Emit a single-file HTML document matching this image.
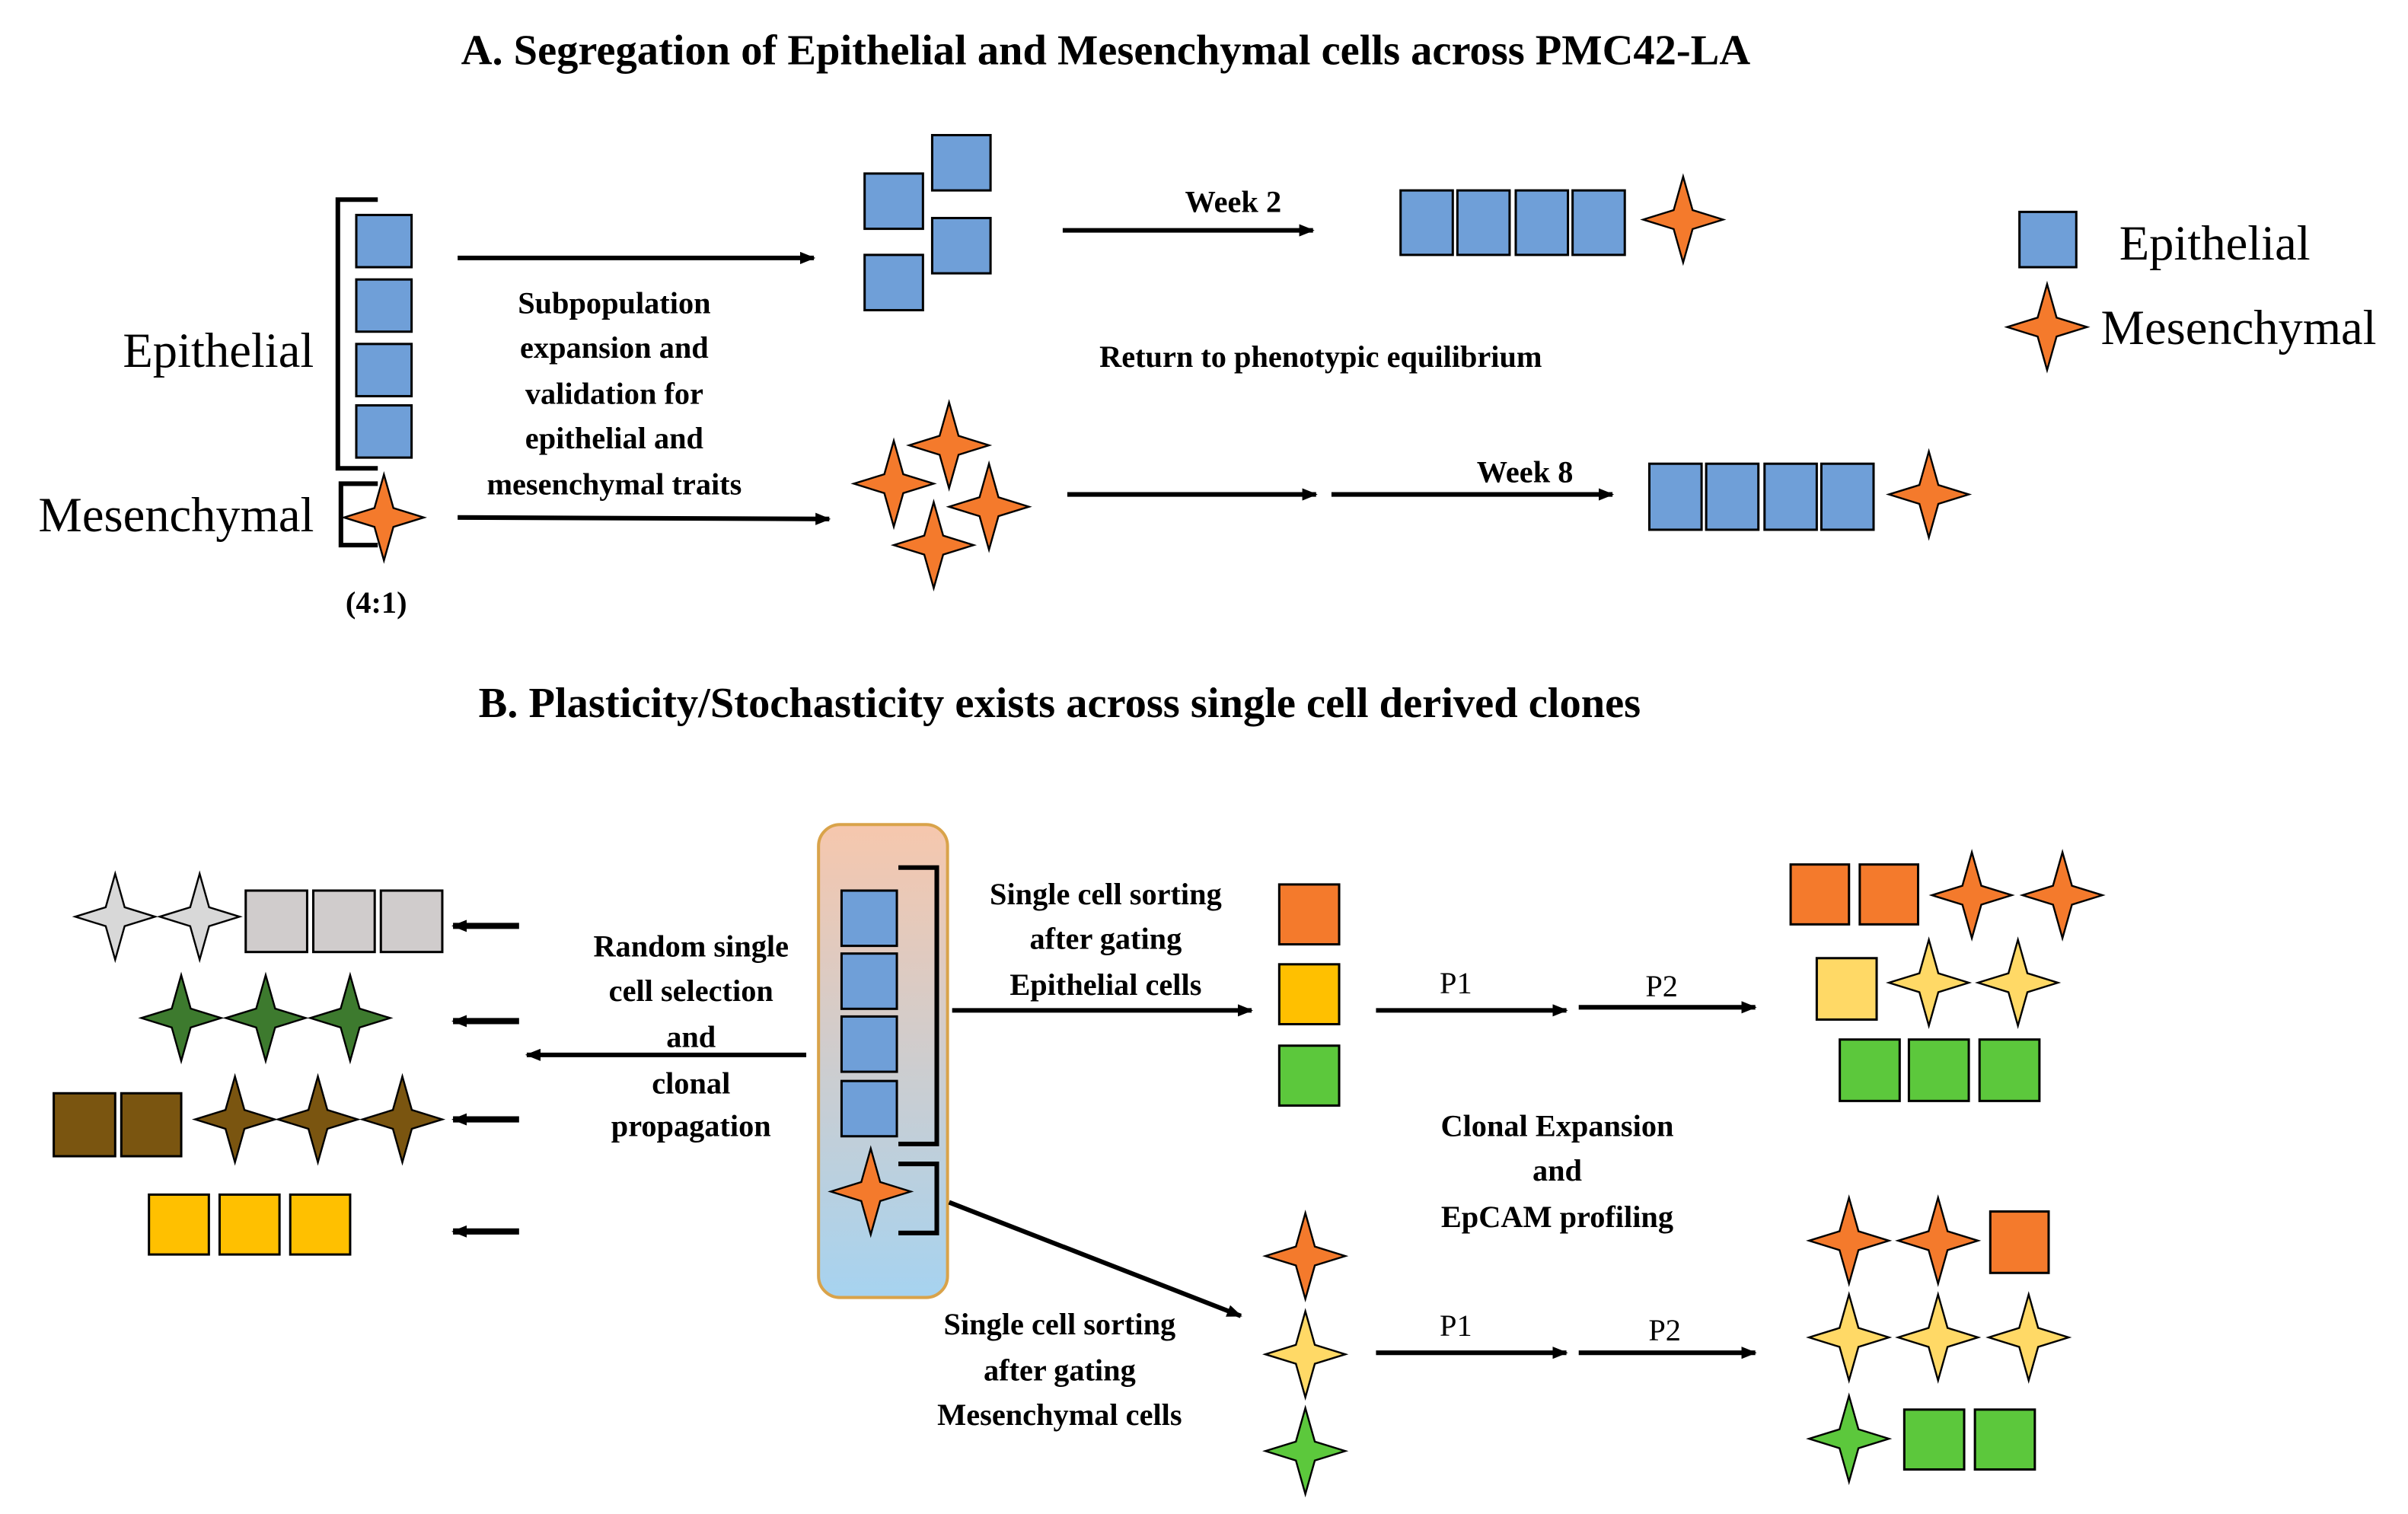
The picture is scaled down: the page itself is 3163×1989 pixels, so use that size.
<!DOCTYPE html>
<html><head><meta charset="utf-8"><style>html,body{margin:0;padding:0;background:#fff}svg{display:block}</style></head>
<body>
<svg id="s" xmlns="http://www.w3.org/2000/svg" width="3163" height="1989" viewBox="0 0 1568 986">
<defs>
<linearGradient id="g" x1="0" y1="0" x2="0" y2="1"><stop offset="0" stop-color="#f6c7ad"/><stop offset="1" stop-color="#a6d3f0"/></linearGradient>
<marker id="a" markerWidth="10" markerHeight="8" refX="9" refY="4" orient="auto" markerUnits="userSpaceOnUse"><path d="M0,0 L10,4 L0,8 z" fill="#000"/></marker>
</defs>
<rect width="1568" height="986" fill="#fff"/>
<g font-family="Liberation Serif, serif" font-weight="bold" fill="#000">
<text x="720" y="42" font-size="28" text-anchor="middle">A. Segregation of Epithelial and Mesenchymal cells across PMC42-LA</text>
<text x="690" y="467" font-size="28" text-anchor="middle">B. Plasticity/Stochasticity exists across single cell derived clones</text>
<g font-size="20" text-anchor="middle">
<text x="400" y="204">Subpopulation</text><text x="400" y="233">expansion and</text><text x="400" y="263">validation for</text><text x="400" y="292">epithelial and</text><text x="400" y="322">mesenchymal traits</text>
<text x="245" y="399">(4:1)</text>
<text x="803" y="138">Week 2</text><text x="993" y="314">Week 8</text>
<text x="860" y="239">Return to phenotypic equilibrium</text>
<text x="450" y="623">Random single</text><text x="450" y="652">cell selection</text><text x="450" y="682">and</text><text x="450" y="712">clonal</text><text x="450" y="740">propagation</text>
<text x="570" y="837">(4:1)</text>
<text x="720" y="589">Single cell sorting</text><text x="720" y="618">after gating</text><text x="720" y="648">Epithelial cells</text>
<text x="690" y="869">Single cell sorting</text><text x="690" y="899">after gating</text><text x="690" y="928">Mesenchymal cells</text>
<text x="1014" y="740">Clonal Expansion</text><text x="1014" y="769">and</text><text x="1014" y="799">EpCAM profiling</text>
</g>
<g font-size="20" font-weight="normal" text-anchor="middle">
<text x="948" y="647">P1</text><text x="1082" y="649">P2</text><text x="948" y="870">P1</text><text x="1084" y="873">P2</text>
</g>
</g>
<g font-family="Liberation Serif, serif" font-size="32" fill="#000">
<text x="80" y="239">Epithelial</text><text x="25" y="346">Mesenchymal</text>
<text x="1380" y="169">Epithelial</text><text x="1368" y="224">Mesenchymal</text>
</g>
<rect x="533" y="537" width="84" height="308" rx="14" fill="url(#g)" stroke="#d9a34a" stroke-width="2"/>
<g id="c" stroke="#000" stroke-width="3" fill="none"></g>
</svg>
<script>
const s=document.getElementById('c'),NS='http://www.w3.org/2000/svg';
function el(t,a,p){const e=document.createElementNS(NS,t);for(const k in a)e.setAttribute(k,a[k]);(p||s).appendChild(e);return e}
const B='#6f9fd8',O='#f47a2c',Y='#ffc000',LY='#ffd966',G='#5cc83c',DG='#3d7a2e',BR='#7a5510',GR='#d0cccc',GS='#d8d8d8';
function sq(x,y,w,h,f){el('rect',{x,y,width:w,height:h,fill:f,stroke:'#000','stroke-width':1.5})}
function st(cx,cy,r,f){const i=r*0.22,h=r*0.93;el('path',{d:`M${cx},${cy-r} L${cx+i},${cy-i} L${cx+h},${cy} L${cx+i},${cy+i} L${cx},${cy+r} L${cx-i},${cy+i} L${cx-h},${cy} L${cx-i},${cy-i} Z`,fill:f,stroke:'#000','stroke-width':1.2})}
function ar(x1,y1,x2,y2,w){el('line',{x1,y1,x2,y2,stroke:'#000','stroke-width':w||3,'marker-end':'url(#a)'})}
// A
[140,182,224,264].forEach(y=>sq(232,y,36,34,B));
el('path',{d:'M246,130 L220,130 L220,305 L246,305',stroke:'#000','stroke-width':3,fill:'none'});
el('path',{d:'M246,315 L222,315 L222,355 L246,355',stroke:'#000','stroke-width':3,fill:'none'});
st(250,337,28,O);
ar(298,168,530,168);ar(298,337,540,338);
sq(563,113,38,36,B);sq(607,88,38,36,B);sq(607,142,38,36,B);sq(563,166,38,36,B);
ar(692,150,855,150);
[912,949,987,1024].forEach(x=>sq(x,124,34,42,B));st(1096,143,28,O);
[[618,290],[582,315],[644,330],[608,355]].forEach(p=>st(p[0],p[1],28,O));
ar(695,322,857,322);ar(867,322,1050,322);
[1074,1111,1149,1186].forEach(x=>sq(x,302,34,43,B));st(1256,322,28,O);
sq(1315,138,37,36,B);st(1333,213,28,O);
// B
[580,621,662,704].forEach(y=>sq(548,y,36,36,B));
el('path',{d:'M585,565 L610,565 L610,745 L585,745',stroke:'#000','stroke-width':3,fill:'none'});
el('path',{d:'M585,758 L610,758 L610,803 L585,803',stroke:'#000','stroke-width':3,fill:'none'});
st(567,776,28,O);
ar(525,687,343,687);
[603,665,729,802].forEach(y=>ar(338,y,295,y,4));
st(75,597,28,GS);st(130,597,28,GS);[160,204,248].forEach(x=>sq(x,580,40,40,GR));
[118,173,228].forEach(x=>st(x,663,28,DG));
sq(35,712,40,41,BR);sq(79,712,39,41,BR);[153,207,262].forEach(x=>st(x,729,28,BR));
[97,143,189].forEach(x=>sq(x,778,39,39,Y));
ar(620,658,815,658);
sq(833,576,39,39,O);sq(833,628,39,39,Y);sq(833,681,39,39,G);
ar(896,658,1020,658);ar(1028,656,1143,656);
sq(1166,563,38,39,O);sq(1211,563,38,39,O);st(1284,583,28,O);st(1343,583,28,O);
sq(1183,624,39,40,LY);st(1256,640,28,LY);st(1314,640,28,LY);
[1198,1243,1289].forEach(x=>sq(x,677,39,40,G));
ar(618,783,808,857);
st(850,818,28,O);st(850,882,28,LY);st(850,945,28,G);
ar(896,881,1020,881);ar(1028,881,1143,881);
st(1204,808,28,O);st(1262,808,28,O);sq(1296,789,38,40,O);
[1204,1262,1321].forEach(x=>st(x,871,28,LY));
st(1204,937,28,G);sq(1240,918,39,39,G);sq(1286,918,39,39,G);
</script>
</body></html>
